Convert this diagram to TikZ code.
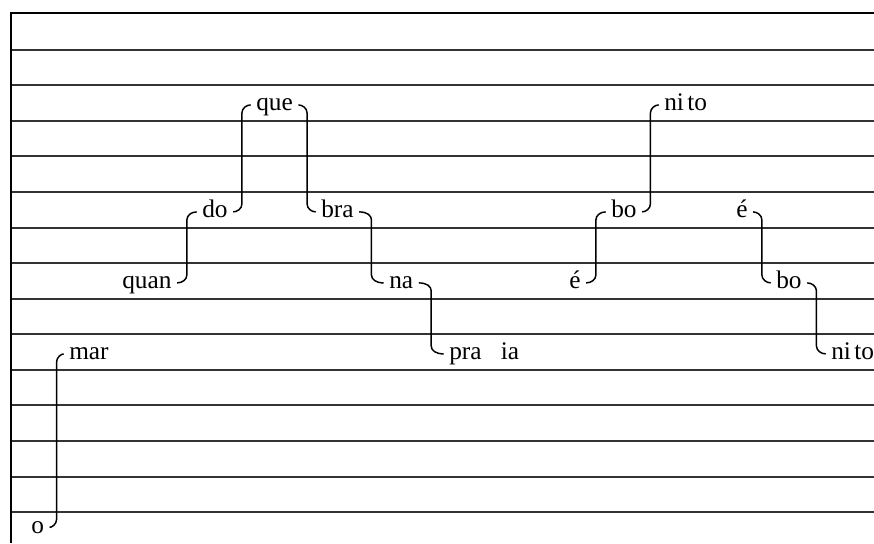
\documentclass[tikz,border=0pt]{standalone}
\usepackage{fontspec}
\setmainfont{Liberation Serif}
\usetikzlibrary{calc}

\tikzset{
  syl/.style={anchor=base west, inner sep=0pt, font=\fontsize{19}{22}\selectfont},
  staffrule/.style={line width=1.5pt, draw=black!80},
  link/.style={line width=1.1pt, draw=black},
}

% rising link: hook out of the lower syllable, vertical, hook right into the upper one
\newcommand\linkup[2]{%
  \draw[link] let \p1=($(#1.base east)+(4pt,4.2pt)$),
                  \p2=($(#2.base west)+(-4pt,4.2pt)$),
                  \p3=($(\p1)!0.5!(\p2)$) in
    (\p1) .. controls (\x3-3.5pt,\y1) and (\x3,\y1+2.5pt) .. (\x3,\y1+6pt)
    -- (\x3,\y2-6pt) .. controls (\x3,\y2-2.5pt) and (\x3+3.5pt,\y2) .. (\p2);}

% falling link: hook down out of the upper syllable, vertical, hook right into the lower one
\newcommand\linkdown[2]{%
  \draw[link] let \p1=($(#1.base east)+(4pt,4.2pt)$),
                  \p2=($(#2.base west)+(-4pt,4.2pt)$),
                  \p3=($(\p1)!0.5!(\p2)$) in
    (\p1) .. controls (\x3-3.5pt,\y1) and (\x3,\y1-2.5pt) .. (\x3,\y1-6pt)
    -- (\x3,\y2+6pt) .. controls (\x3,\y2+2.5pt) and (\x3+3.5pt,\y2) .. (\p2);}

\begin{document}
\begin{tikzpicture}[x=0.75pt, y=-0.75pt]
\useasboundingbox (0,0) rectangle (874,543);
\fill[white] (0,0) rectangle (874,543);

% staff of ruled lines
\foreach \yy in {49.5,85,120.5,156,192,227.5,263,298.5,334,369.5,405,441,476.5,512}
  \draw[staffrule] (11,\yy) -- (874,\yy);
\draw[line width=1.8pt, black] (11,13) -- (874,13);
\draw[line width=1.5pt, black] (11,12) -- (11,543);

% syllables
\node[syl] (o)     at (31,533)    {o};
\node[syl] (mar)   at (69,359.5)  {mar};
\node[syl] (quan)  at (122,288.5) {quan};
\node[syl] (do)    at (202,217.5) {do};
\node[syl] (que)   at (256,110.5) {que};
\node[syl] (bra)   at (321,217.5) {bra};
\node[syl] (na)    at (389,288.5) {na};
\node[syl] (praia) at (449,359.5) {pra\hspace{14.5pt}ia};
\node[syl] (e1)    at (569,288.5) {é};
\node[syl] (bo1)   at (611,217.5) {bo};
\node[syl] (nito1) at (664,110.5) {ni\hspace{2.5pt}to};
\node[syl] (e2)    at (736,217.5) {é};
\node[syl] (bo2)   at (776,288.5) {bo};
\node[syl] (nito2) at (831,359.5) {ni\hspace{2.5pt}to};

% melodic links
\linkup{o}{mar}
\linkup{quan}{do}
\linkup{do}{que}
\linkdown{que}{bra}
\linkdown{bra}{na}
\linkdown{na}{praia}
\linkup{e1}{bo1}
\linkup{bo1}{nito1}
\linkdown{e2}{bo2}
\linkdown{bo2}{nito2}
\end{tikzpicture}
\end{document}
